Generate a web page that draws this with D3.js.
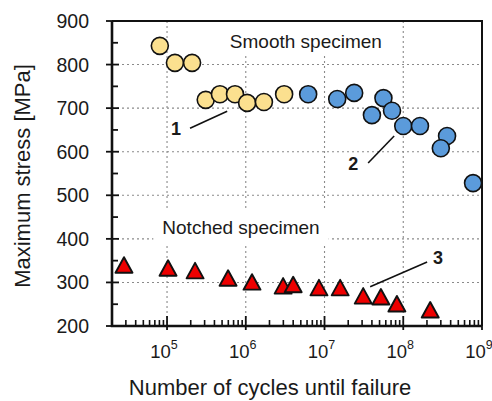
<!DOCTYPE html>
<html>
<head>
<meta charset="utf-8">
<script src="https://cdn.jsdelivr.net/npm/d3@7"></script>
<style>
  body { margin: 0; background: #fff; }
  text { font-family: Arial, "Liberation Sans", sans-serif; fill: #1a1a1a; }
</style>
</head>
<body>
<svg id="chart" width="492" height="401"></svg>
<script>
// smooth specimen, type 1 (yellow)
const smooth1N = [8.1e4, 1.26e5, 2.08e5, 3.1e5, 4.7e5, 7.3e5, 1.04e6, 1.7e6, 3.07e6];
const smooth1S = [843, 804, 804, 719, 732, 732, 712, 714, 732];
// smooth specimen, type 2 (blue)
const smooth2N = [6.2e6, 1.45e7, 2.38e7, 4.0e7, 5.6e7, 7.2e7, 1.0e8, 1.63e8, 3.6e8, 3.0e8, 7.7e8];
const smooth2S = [732, 721, 735, 684, 723, 694, 659, 659, 636, 608, 528];
// notched specimen (red triangles)
const notchN = [2.84e4, 1.03e5, 2.27e5, 5.96e5, 1.2e6, 2.98e6, 4.0e6, 8.5e6, 1.58e7, 3.1e7, 5.2e7, 8.3e7, 2.2e8];
const notchS = [335, 328, 322, 305, 296, 287, 290, 283, 283, 264, 262, 246, 232];

const yTicks = [200, 300, 400, 500, 600, 700, 800, 900];
const xTicks = [1e5, 1e6, 1e7, 1e8, 1e9];

// annotation arrows: label, label position, line start, line end (data units)
const notes = [
  {t: "1", at: [1.3e5, 654], from: [1.96e5, 654], to: [5.8e5, 693]},
  {t: "2", at: [2.31e7, 574], from: [3.58e7, 574], to: [7.66e7, 636]},
  {t: "3", at: [2.77e8, 358], from: [2.01e8, 347], to: [3.8e7, 290]}
];

const margin = {top: 21, left: 112},
      width = 370, height = 305;

const svg = d3.select('#chart');
const g = svg.append('g').attr('transform', `translate(${margin.left},${margin.top})`);

const x = d3.scaleLog().domain([2e4, 1e9]).range([0, width]);
const y = d3.scaleLinear().domain([200, 900]).range([height, 0]);

// grid
const grid = g.append('g').attr('stroke', '#8a8a8a').attr('stroke-width', 1.1).attr('stroke-dasharray', '2,3');
grid.selectAll('.gy').data(yTicks.filter(v => v > 200 && v < 900)).enter().append('line')
    .attr('x1', 0).attr('x2', width).attr('y1', d => y(d)).attr('y2', d => y(d));
grid.selectAll('.gx').data(xTicks.filter(v => v < 1e9)).enter().append('line')
    .attr('y1', 0).attr('y2', height).attr('x1', d => x(d)).attr('x2', d => x(d));

// series labels with white boxes hiding the grid
function boxLabel(txt, cx, base, padX, padTop, padBot) {
  const bg = g.append('rect').attr('fill', '#fff');
  const t = g.append('text').attr('x', cx).attr('y', base).attr('text-anchor', 'middle')
      .style('font-size', '19px').text(txt);
  const b = t.node().getBBox();
  const top = Math.max(1, b.y - padTop);
  bg.attr('x', b.x - padX).attr('width', b.width + 2 * padX)
    .attr('y', top).attr('height', b.y + b.height + padBot - top);
}
boxLabel('Smooth specimen', x(5.8e6), 27, 8, 30, 2);
boxLabel('Notched specimen', x(8.7e5), 213, 9, 8, 5);

// minor x ticks
let minor = [];
for (let e = 4; e < 9; e++) for (let k = 2; k <= 9; k++) {
  const v = k * Math.pow(10, e);
  if (v >= 2e4 && v < 1e9) minor.push(v);
}
g.append('g').selectAll('line').data(minor).enter().append('line')
    .attr('x1', d => x(d)).attr('x2', d => x(d)).attr('y1', height).attr('y2', height - 6)
    .attr('stroke', '#111').attr('stroke-width', 1.6);
g.append('g').selectAll('line').data(xTicks).enter().append('line')
    .attr('x1', d => x(d)).attr('x2', d => x(d)).attr('y1', height + 4).attr('y2', height - 10)
    .attr('stroke', '#111').attr('stroke-width', 1.8);

// y ticks
const yMinor = d3.range(250, 900, 100);
g.append('g').selectAll('line').data(yMinor).enter().append('line')
    .attr('x1', 0).attr('x2', 6).attr('y1', d => y(d)).attr('y2', d => y(d))
    .attr('stroke', '#111').attr('stroke-width', 1.8);
g.append('g').selectAll('line').data(yTicks).enter().append('line')
    .attr('x1', -6).attr('x2', 7).attr('y1', d => y(d)).attr('y2', d => y(d))
    .attr('stroke', '#111').attr('stroke-width', 1.8);

// tick labels
g.append('g').selectAll('text').data(yTicks).enter().append('text')
    .attr('x', -23).attr('y', d => y(d)).attr('dy', '0.36em').attr('text-anchor', 'end')
    .style('font-size', '19.5px').text(d => d);
const xl = g.append('g').selectAll('text').data(xTicks).enter().append('text')
    .attr('x', d => x(d) - 3).attr('y', height + 32).attr('text-anchor', 'middle')
    .style('font-size', '18.5px');
xl.append('tspan').text('10');
xl.append('tspan').attr('dy', -9).style('font-size', '12.5px').text(d => Math.round(Math.log10(d)));

// frame
g.append('path').attr('d', `M0,0H${width}V${height}`).attr('fill', 'none').attr('stroke', '#111').attr('stroke-width', 2);
g.append('path').attr('d', `M0,0V${height}H${width}`).attr('fill', 'none').attr('stroke', '#111').attr('stroke-width', 2.6);

// annotations
notes.forEach(n => {
  g.append('line').attr('x1', x(n.from[0])).attr('y1', y(n.from[1]))
      .attr('x2', x(n.to[0])).attr('y2', y(n.to[1]))
      .attr('stroke', '#111').attr('stroke-width', 1.6);
  g.append('text').attr('x', x(n.at[0])).attr('y', y(n.at[1])).attr('dy', '0.36em')
      .attr('text-anchor', 'middle').style('font-size', '18px').style('font-weight', 'bold')
      .text(n.t);
});

// points
const circ = (N, S, fill) => g.append('g').selectAll('circle').data(d3.zip(N, S)).enter().append('circle')
    .attr('cx', d => x(d[0])).attr('cy', d => y(d[1])).attr('r', 8.5)
    .attr('fill', fill).attr('stroke', '#111').attr('stroke-width', 1.6);
circ(smooth1N, smooth1S, '#fbe08f');
circ(smooth2N, smooth2S, '#5b9bdb');

// triangle marker, centroid at origin
const tri = 'M0,-10L8.5,5.5L-8.5,5.5Z';
g.append('g').selectAll('path').data(d3.zip(notchN, notchS)).enter().append('path')
    .attr('d', tri)
    .attr('transform', d => `translate(${x(d[0])},${y(d[1])})`)
    .attr('fill', '#ee0000').attr('stroke', '#111').attr('stroke-width', 1.9).attr('stroke-linejoin', 'round');

// axis titles
svg.append('text').attr('x', 270).attr('y', 395).attr('text-anchor', 'middle')
    .style('font-size', '22px').text('Number of cycles until failure');
svg.append('text').attr('transform', 'translate(30,176) rotate(-90)').attr('text-anchor', 'middle')
    .style('font-size', '22px').text('Maximum stress [MPa]');
</script>
</body>
</html>
